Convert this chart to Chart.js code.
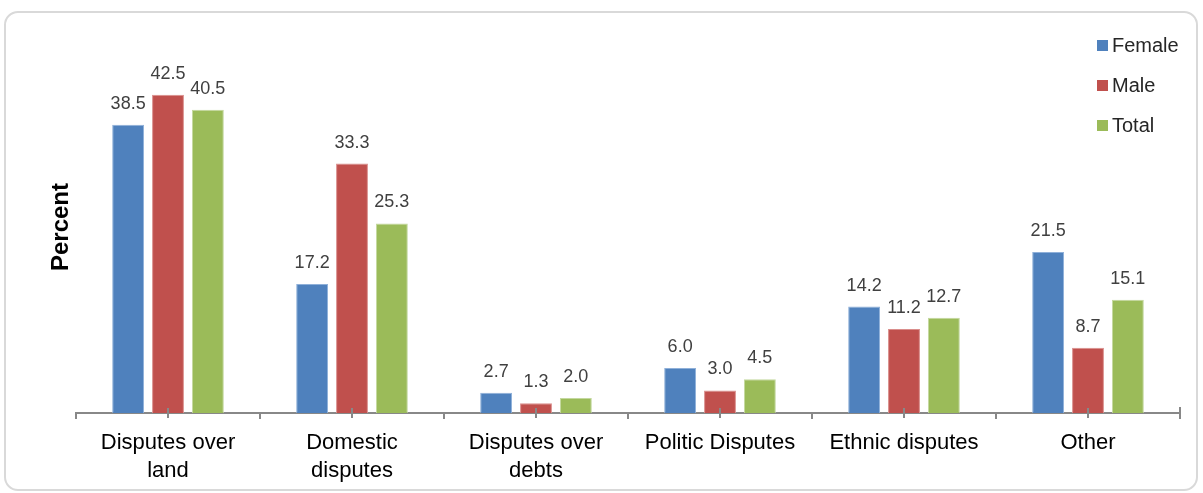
<!DOCTYPE html>
<html>
<head>
<meta charset="utf-8">
<script src="https://cdn.jsdelivr.net/npm/chart.js@4/dist/chart.umd.min.js"></script>
<style>
  html, body { margin: 0; padding: 0; background: #fff; }
  #wrap { position: relative; width: 1203px; height: 493px; }
  #frame { position: absolute; left: 4px; top: 11px; width: 1194px; height: 480px;
           border: 2px solid #d9d9d9; border-radius: 14px; box-sizing: border-box; }
  #chart { position: absolute; left: 0; top: 0; }
</style>
</head>
<body>
<div id="wrap">
  <div id="frame"></div>
  <canvas id="chart" width="1203" height="493"></canvas>
</div>
<script>
// dados do gráfico
const categories = [
  ['Disputes over', 'land'],
  ['Domestic', 'disputes'],
  ['Disputes over', 'debts'],
  'Politic Disputes',
  'Ethnic disputes',
  'Other'
];
const seriesNames = ['Female', 'Male', 'Total'];
const female = [38.5, 17.2, 2.7, 6.0, 14.2, 21.5];
const male = [42.5, 33.3, 1.3, 3.0, 11.2, 8.7];
const total = [40.5, 25.3, 2.0, 4.5, 12.7, 15.1];

const colors = ['#4F81BD', '#C0504D', '#9BBB59'];
const edges = ['#8FB0D9', '#DA8E8C', '#C3D89E'];
const FONT = '"Liberation Sans", Arial, sans-serif';

// rótulos de valor acima das barras
const valueLabels = {
  id: 'valueLabels',
  afterDatasetsDraw(chart) {
    const ctx = chart.ctx;
    ctx.save();
    ctx.font = '18px ' + FONT;
    ctx.fillStyle = '#404040';
    ctx.textAlign = 'center';
    ctx.textBaseline = 'alphabetic';
    chart.data.datasets.forEach((ds, i) => {
      chart.getDatasetMeta(i).data.forEach((bar, j) => {
        ctx.fillText(ds.data[j].toFixed(1), bar.x, bar.y - 16);
      });
    });
    ctx.restore();
  }
};

// legenda, título do eixo e marcas centrais
const extras = {
  id: 'extras',
  afterDraw(chart) {
    const ctx = chart.ctx;
    const area = chart.chartArea;
    const xs = chart.scales.x;
    ctx.save();
    // marcas no centro de cada categoria (cruzam o eixo)
    ctx.strokeStyle = '#888888';
    ctx.lineWidth = 2;
    categories.forEach((c, i) => {
      const px = Math.round(xs.getPixelForValue(i));
      ctx.beginPath();
      ctx.moveTo(px, area.bottom - 5);
      ctx.lineTo(px, area.bottom + 5);
      ctx.stroke();
    });
    // marca final à direita
    ctx.beginPath();
    ctx.moveTo(Math.round(area.right), area.bottom - 6);
    ctx.lineTo(Math.round(area.right), area.bottom + 6);
    ctx.stroke();
    // título do eixo Y
    ctx.translate(61, 227);
    ctx.rotate(-Math.PI / 2);
    ctx.font = 'bold 24px ' + FONT;
    ctx.fillStyle = '#000';
    ctx.textAlign = 'center';
    ctx.textBaseline = 'middle';
    ctx.fillText('Percent', 0, 0);
    ctx.restore();

    ctx.save();
    ctx.font = '20px ' + FONT;
    ctx.textBaseline = 'middle';
    ctx.textAlign = 'left';
    chart.data.datasets.forEach((ds, i) => {
      const y = 45 + i * 40;
      ctx.fillStyle = ds.backgroundColor;
      ctx.fillRect(1097, y - 5, 11, 11);
      ctx.fillStyle = '#262626';
      ctx.fillText(ds.label, 1112, y + 1);
    });
    ctx.restore();
  }
};

new Chart(document.getElementById('chart'), {
  type: 'bar',
  data: {
    labels: categories,
    datasets: [
      { label: seriesNames[0], data: female, backgroundColor: colors[0], borderColor: edges[0], borderWidth: 1 },
      { label: seriesNames[1], data: male, backgroundColor: colors[1], borderColor: edges[1], borderWidth: 1 },
      { label: seriesNames[2], data: total, backgroundColor: colors[2], borderColor: edges[2], borderWidth: 1 }
    ]
  },
  options: {
    responsive: false,
    animation: false,
    devicePixelRatio: 1,
    categoryPercentage: 0.65,
    barPercentage: 0.8,
    layout: { padding: { left: 76, right: 23, top: 76, bottom: -2 } },
    plugins: {
      legend: { display: false },
      tooltip: { enabled: false }
    },
    scales: {
      x: {
        border: { display: true, color: '#888888', width: 2 },
        grid: { display: true, drawOnChartArea: false, drawTicks: true, tickLength: 6, lineWidth: 2, color: '#888888', offset: true },
        ticks: {
          color: '#000',
          font: { family: FONT, size: 22, lineHeight: 1.23 },
          padding: 11,
          autoSkip: false,
          maxRotation: 0
        }
      },
      y: {
        display: false,
        min: 0,
        max: 45
      }
    }
  },
  plugins: [valueLabels, extras]
});
</script>
</body>
</html>
